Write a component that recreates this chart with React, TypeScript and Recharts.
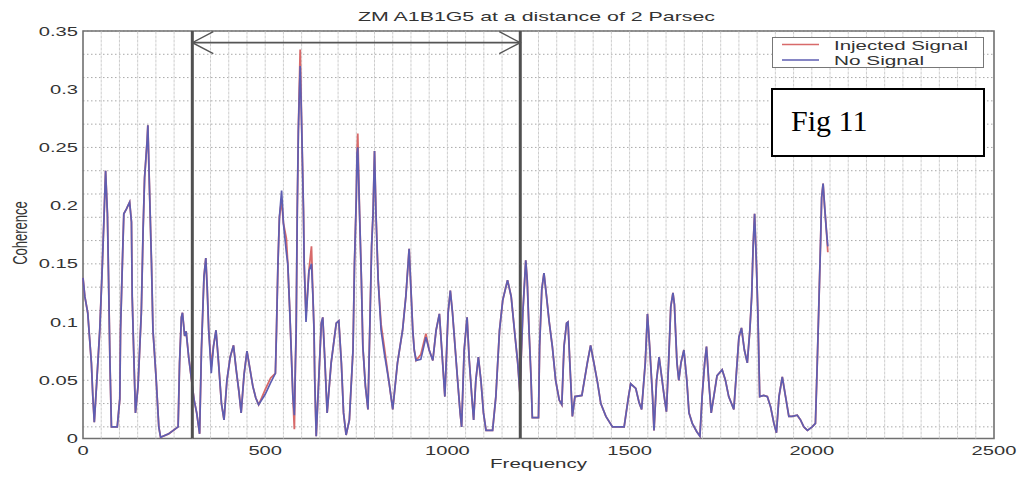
import React from 'react';
import {
  CartesianGrid,
  Legend,
  Line,
  LineChart,
  ReferenceArea,
  ReferenceLine,
  XAxis,
  YAxis,
} from 'recharts';

const TITLE = 'ZM A1B1G5 at a distance of 2 Parsec';
const X_LABEL = 'Frequency';
const Y_LABEL = 'Coherence';
const FIG_LABEL = 'Fig 11';

const X_TICKS = [0, 500, 1000, 1500, 2000, 2500];
const Y_TICKS = [0, 0.05, 0.1, 0.15, 0.2, 0.25, 0.3, 0.35];

// band markers: two vertical bars and the double arrow between them
const BAND_START = 300;
const BAND_END = 1200;
const ARROW_LEVEL = 0.34;

const FREQ = [
  0, 5, 13, 23, 27, 31, 37, 46, 52, 58,
  62, 67, 70, 74, 78, 94, 101, 103, 108, 112,
  119, 128, 133, 135, 140, 144, 151, 160, 165, 169,
  176, 178, 182, 188, 192, 201, 208, 213, 235, 261,
  265, 270, 273, 279, 283, 290, 298, 305, 312, 320,
  325, 332, 337, 341, 345, 352, 358, 365, 372, 380,
  387, 395, 404, 413, 420, 428, 434, 442, 450, 458,
  466, 474, 482, 500, 515, 528, 531, 535, 539, 545,
  550, 558, 562, 567, 571, 576, 580, 583, 585, 588,
  591, 594, 596, 600, 605, 607, 610, 612, 620, 627,
  631, 634, 636, 640, 649, 654, 658, 664, 670, 681,
  695, 702, 709, 715, 722, 731, 741, 745, 750, 752,
  754, 759, 764, 768, 775, 782, 788, 792, 796, 800,
  804, 810, 818, 827, 840, 850, 863, 877, 886, 895,
  900, 905, 909, 914, 927, 941, 950, 960, 969, 978,
  987, 993, 1002, 1008, 1014, 1021, 1028, 1035, 1039, 1046,
  1054, 1060, 1067, 1072, 1078, 1085, 1092, 1099, 1106, 1124,
  1133, 1143, 1152, 1165, 1175, 1184, 1193, 1199, 1207, 1215,
  1219, 1224, 1229, 1233, 1250, 1253, 1259, 1265, 1272, 1279,
  1288, 1297, 1307, 1314, 1320, 1327, 1331, 1336, 1343, 1350,
  1369, 1384, 1393, 1402, 1412, 1421, 1435, 1453, 1485, 1497,
  1503, 1517, 1526, 1533, 1543, 1549, 1555, 1563, 1567, 1574,
  1581, 1595, 1601, 1607, 1613, 1619, 1623, 1626, 1630, 1635,
  1641, 1649, 1657, 1663, 1672, 1684, 1693, 1699, 1706, 1711,
  1717, 1724, 1731, 1740, 1754, 1763, 1772, 1786, 1795, 1800,
  1807, 1815, 1823, 1830, 1835, 1839, 1843, 1848, 1852, 1855,
  1857, 1868, 1878, 1887, 1896, 1903, 1910, 1919, 1928, 1937,
  1946, 1960, 1969, 1978, 1988, 2001, 2010, 2015, 2020, 2024,
  2027, 2031, 2035, 2040, 2044,
];

const NO_SIGNAL = [
  0.138, 0.122, 0.108, 0.065, 0.036, 0.014, 0.045, 0.093, 0.140, 0.193,
  0.230, 0.193, 0.140, 0.065, 0.010, 0.010, 0.034, 0.093, 0.150, 0.193,
  0.197, 0.203, 0.186, 0.122, 0.065, 0.022, 0.045, 0.108, 0.180, 0.224,
  0.256, 0.269, 0.220, 0.150, 0.093, 0.050, 0.010, 0.001, 0.004, 0.010,
  0.065, 0.104, 0.108, 0.088, 0.092, 0.070, 0.050, 0.033, 0.022, 0.004,
  0.076, 0.139, 0.155, 0.128, 0.093, 0.056, 0.079, 0.093, 0.065, 0.030,
  0.016, 0.050, 0.070, 0.080, 0.060, 0.040, 0.022, 0.055, 0.075, 0.060,
  0.045, 0.035, 0.029, 0.038, 0.048, 0.056, 0.093, 0.150, 0.190, 0.213,
  0.185, 0.160, 0.150, 0.113, 0.079, 0.036, 0.020, 0.065, 0.093, 0.196,
  0.265, 0.300, 0.320, 0.270, 0.196, 0.150, 0.122, 0.100, 0.144, 0.150,
  0.122, 0.093, 0.050, 0.002, 0.065, 0.099, 0.104, 0.065, 0.022, 0.065,
  0.099, 0.101, 0.065, 0.022, 0.003, 0.016, 0.076, 0.150, 0.207, 0.245,
  0.250, 0.193, 0.136, 0.079, 0.045, 0.025, 0.108, 0.165, 0.193, 0.247,
  0.193, 0.136, 0.093, 0.073, 0.048, 0.025, 0.065, 0.093, 0.122, 0.163,
  0.128, 0.093, 0.076, 0.067, 0.068, 0.087, 0.076, 0.067, 0.093, 0.107,
  0.065, 0.036, 0.108, 0.127, 0.108, 0.079, 0.050, 0.022, 0.010, 0.076,
  0.104, 0.067, 0.036, 0.016, 0.050, 0.070, 0.050, 0.022, 0.007, 0.007,
  0.036, 0.093, 0.119, 0.136, 0.122, 0.093, 0.065, 0.039, 0.108, 0.153,
  0.136, 0.093, 0.056, 0.018, 0.018, 0.079, 0.128, 0.142, 0.122, 0.101,
  0.079, 0.050, 0.033, 0.029, 0.079, 0.099, 0.100, 0.065, 0.019, 0.036,
  0.037, 0.065, 0.080, 0.065, 0.048, 0.030, 0.019, 0.010, 0.010, 0.036,
  0.047, 0.043, 0.031, 0.025, 0.065, 0.107, 0.079, 0.036, 0.007, 0.050,
  0.070, 0.036, 0.023, 0.065, 0.113, 0.125, 0.115, 0.093, 0.065, 0.050,
  0.065, 0.076, 0.050, 0.022, 0.013, 0.006, 0.002, 0.036, 0.065, 0.079,
  0.050, 0.022, 0.036, 0.054, 0.059, 0.050, 0.036, 0.025, 0.065, 0.087,
  0.095, 0.076, 0.065, 0.093, 0.122, 0.165, 0.193, 0.150, 0.108, 0.065,
  0.036, 0.037, 0.036, 0.027, 0.013, 0.005, 0.036, 0.053, 0.036, 0.019,
  0.019, 0.020, 0.016, 0.010, 0.007, 0.010, 0.013, 0.065, 0.122, 0.168,
  0.207, 0.219, 0.200, 0.179, 0.165,
];

const INJECTED = [
  0.138, 0.122, 0.108, 0.065, 0.036, 0.014, 0.045, 0.093, 0.140, 0.193,
  0.230, 0.193, 0.140, 0.065, 0.010, 0.010, 0.034, 0.093, 0.150, 0.193,
  0.197, 0.203, 0.186, 0.122, 0.065, 0.022, 0.045, 0.108, 0.180, 0.224,
  0.256, 0.269, 0.220, 0.150, 0.093, 0.050, 0.010, 0.001, 0.004, 0.010,
  0.065, 0.104, 0.108, 0.088, 0.092, 0.070, 0.050, 0.033, 0.022, 0.004,
  0.076, 0.139, 0.155, 0.128, 0.093, 0.062, 0.079, 0.093, 0.065, 0.030,
  0.016, 0.050, 0.070, 0.080, 0.060, 0.040, 0.022, 0.055, 0.075, 0.060,
  0.045, 0.035, 0.029, 0.042, 0.052, 0.056, 0.093, 0.150, 0.190, 0.205,
  0.185, 0.172, 0.150, 0.113, 0.079, 0.036, 0.008, 0.065, 0.093, 0.196,
  0.265, 0.307, 0.334, 0.270, 0.196, 0.150, 0.122, 0.106, 0.144, 0.165,
  0.122, 0.093, 0.050, 0.002, 0.065, 0.099, 0.104, 0.065, 0.022, 0.065,
  0.099, 0.101, 0.065, 0.022, 0.003, 0.016, 0.076, 0.150, 0.207, 0.245,
  0.262, 0.193, 0.136, 0.079, 0.045, 0.025, 0.108, 0.165, 0.193, 0.247,
  0.193, 0.136, 0.098, 0.078, 0.048, 0.025, 0.065, 0.093, 0.122, 0.163,
  0.128, 0.093, 0.076, 0.067, 0.072, 0.090, 0.076, 0.067, 0.093, 0.107,
  0.065, 0.036, 0.108, 0.127, 0.108, 0.079, 0.050, 0.022, 0.010, 0.076,
  0.104, 0.067, 0.036, 0.016, 0.050, 0.070, 0.050, 0.022, 0.007, 0.007,
  0.036, 0.093, 0.119, 0.136, 0.122, 0.093, 0.065, 0.039, 0.108, 0.153,
  0.136, 0.093, 0.056, 0.018, 0.018, 0.079, 0.128, 0.142, 0.122, 0.101,
  0.079, 0.050, 0.033, 0.029, 0.079, 0.099, 0.100, 0.065, 0.019, 0.036,
  0.037, 0.065, 0.080, 0.065, 0.048, 0.030, 0.019, 0.010, 0.010, 0.036,
  0.047, 0.043, 0.031, 0.025, 0.065, 0.107, 0.079, 0.036, 0.007, 0.050,
  0.070, 0.036, 0.023, 0.065, 0.113, 0.125, 0.115, 0.093, 0.065, 0.050,
  0.065, 0.076, 0.050, 0.022, 0.013, 0.006, 0.002, 0.036, 0.065, 0.079,
  0.050, 0.022, 0.036, 0.054, 0.059, 0.050, 0.036, 0.025, 0.065, 0.087,
  0.095, 0.076, 0.065, 0.093, 0.122, 0.165, 0.193, 0.150, 0.108, 0.065,
  0.036, 0.037, 0.036, 0.027, 0.013, 0.005, 0.036, 0.053, 0.036, 0.019,
  0.019, 0.020, 0.016, 0.010, 0.007, 0.010, 0.013, 0.065, 0.122, 0.168,
  0.207, 0.219, 0.200, 0.179, 0.160,
];

const data = FREQ.map((f, i) => ({ f, injected: INJECTED[i], noSignal: NO_SIGNAL[i] }));

// dotted grid every 50 Hz and every 0.01
const GRID_X = Array.from({ length: 49 }, (_, i) => (i + 1) * 50);
const GRID_Y = Array.from({ length: 36 }, (_, i) => i * 0.01);

const FONT = '"Liberation Sans", Arial, sans-serif';
const TEXT = '#333';
const RED = '#d86a6a';
const BLUE = '#5e5eb2';
const SX = 1.55; // the scanned figure is stretched sideways

const XTick = ({ x, y, payload }: any) => (
  <text transform={`translate(${x},${y + 16}) scale(${SX},1)`} textAnchor="middle"
    fontSize={13} fontFamily={FONT} fill={TEXT}>{String(payload.value)}</text>
);

const YTick = ({ x, y, payload }: any) => (
  <text transform={`translate(${x - 5},${y + 4.5}) scale(${SX},1)`} textAnchor="end"
    fontSize={13} fontFamily={FONT} fill={TEXT}>{String(payload.value)}</text>
);

const ArrowShape = (props: any) => {
  const { x1, y1, x2, y2 } = props;
  const c = '#555';
  return (
    <g>
      <line x1={x1} y1={y1} x2={x2} y2={y2} stroke={c} strokeWidth={1.6} />
      <polyline points={`${x1 + 21},${y1 - 11} ${x1},${y1} ${x1 + 21},${y1 + 11}`} fill="none" stroke={c} strokeWidth={1.4} />
      <polyline points={`${x2 - 21},${y2 - 11} ${x2},${y2} ${x2 - 21},${y2 + 11}`} fill="none" stroke={c} strokeWidth={1.4} />
    </g>
  );
};

const LegendBox = () => (
  <svg width={213} height={32} style={{ display: 'block' }}>
    <rect x={0.5} y={0.5} width={211} height={30} fill="#fff" stroke="#777" />
    <line x1={10} y1={7.5} x2={47} y2={7.5} stroke={RED} strokeWidth={1.5} />
    <line x1={10} y1={23} x2={47} y2={23} stroke={BLUE} strokeWidth={1.5} />
    <text x={62} y={13} fontSize={13} fontFamily={FONT} fill={TEXT} textLength={134} lengthAdjust="spacingAndGlyphs">Injected Signal</text>
    <text x={62} y={27.5} fontSize={13} fontFamily={FONT} fill={TEXT} textLength={90} lengthAdjust="spacingAndGlyphs">No Signal</text>
  </svg>
);

export default function App() {
  return (
    <div style={{ position: 'relative', width: 1021, height: 478, background: '#fff' }}>
      <style>{'body{margin:0}'}</style>
      <LineChart width={1021} height={478} data={data} margin={{ top: 31, right: 27, left: 0, bottom: 0 }}>
        <CartesianGrid vertical={false} horizontalValues={GRID_Y} stroke="#a9a9a9" strokeDasharray="1.5 2.5" />
        {GRID_X.map((v) => (
          <ReferenceLine key={`gx-${v}`} x={v} stroke="#cdcdcd" strokeWidth={1} strokeDasharray="3 1" />
        ))}
        <XAxis dataKey="f" type="number" domain={[0, 2500]} ticks={X_TICKS} height={39.5}
          axisLine={false} tickLine={false} tickSize={0} tickMargin={0} tick={<XTick />}
          label={(p: any) => {
            const vb = p.viewBox;
            return (
              <text x={vb.x + vb.width / 2} y={vb.y + 29} textAnchor="middle" fontSize={13}
                fontFamily={FONT} fill={TEXT} textLength={97} lengthAdjust="spacingAndGlyphs">{X_LABEL}</text>
            );
          }} />
        <YAxis type="number" domain={[0, 0.35]} ticks={Y_TICKS} width={83}
          axisLine={false} tickLine={false} tickSize={0} tickMargin={0} tick={<YTick />}
          label={() => (
            <text transform={`translate(27,233) scale(${SX},1) rotate(-90)`} textAnchor="middle"
              fontSize={13} fontFamily={FONT} fill={TEXT}>{Y_LABEL}</text>
          )} />
        <ReferenceArea x1={0} x2={2500} y1={0} y2={0.35} fill="none" stroke="#707070" strokeWidth={1.6} ifOverflow="visible" />
        <Line type="linear" dataKey="injected" name="Injected Signal" stroke={RED} strokeWidth={1.8}
          dot={false} isAnimationActive={false} />
        <Line type="linear" dataKey="noSignal" name="No Signal" stroke={BLUE} strokeWidth={1.7}
          dot={false} isAnimationActive={false} />
        <ReferenceLine x={BAND_START} stroke="#505050" strokeWidth={3} />
        <ReferenceLine x={BAND_END} stroke="#505050" strokeWidth={3} />
        <ReferenceLine segment={[{ x: BAND_START, y: ARROW_LEVEL }, { x: BAND_END, y: ARROW_LEVEL }]} shape={ArrowShape} />
        <Legend layout="horizontal" verticalAlign="middle" align="center" content={<LegendBox />}
          wrapperStyle={{ position: 'absolute', left: 772, top: 37, width: 213, height: 32, margin: 0 }} />
      </LineChart>
      <svg width={1021} height={478} style={{ position: 'absolute', left: 0, top: 0, pointerEvents: 'none' }}>
        <text x={536.5} y={21} textAnchor="middle" fontSize={13} fontFamily={FONT} fill={TEXT}
          textLength={357} lengthAdjust="spacingAndGlyphs">{TITLE}</text>
        <rect x={772} y={89} width={212} height={67} fill="#fff" stroke="#000" strokeWidth={2} />
        <text x={791} y={131} fontSize={30} fontFamily='"Liberation Serif", "Times New Roman", serif' fill="#000">{FIG_LABEL}</text>
      </svg>
    </div>
  );
}
